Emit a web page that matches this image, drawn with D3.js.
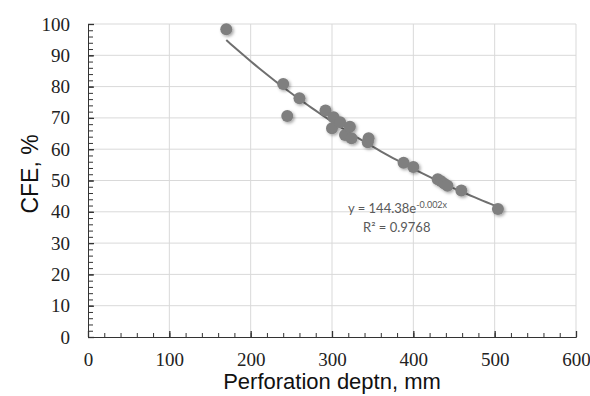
<!DOCTYPE html>
<html>
<head>
<meta charset="utf-8">
<script src="https://cdn.jsdelivr.net/npm/d3@7"></script>
<style>
  body { margin: 0; background: #fff; }
</style>
</head>
<body>
<script>
var w = 590; // Width of the chart
var h = 396; // Height of the chart
var margin = {left: 88, right: 14, top: 24, bottom: 59};

// Data
var depth = [170, 240, 245, 260, 292, 302, 300, 310, 316, 322, 324, 345, 344, 388, 400, 430, 434, 438, 442, 459, 504];
var cfe   = [98.3, 80.8, 70.6, 76.3, 72.4, 70.2, 66.7, 68.6, 64.5, 67.2, 63.5, 63.5, 62.2, 55.7, 54.3, 50.4, 49.8, 49.0, 48.3, 46.8, 40.9];
var xTicks = [0, 100, 200, 300, 400, 500, 600];
var yTicks = [0, 10, 20, 30, 40, 50, 60, 70, 80, 90, 100];

// Exponential trend line y = a * exp(-k x)
var trendA = 144.38;
var trendK = 0.00247;

var xScale = d3.scaleLinear().domain([0, 600]).range([margin.left, w - margin.right]);
var yScale = d3.scaleLinear().domain([0, 100]).range([h - margin.bottom, margin.top]);

var svg = d3.select("body").append("svg")
    .attr("width", w)
    .attr("height", h);

// Drop shadow for markers
var defs = svg.append("defs");
var f = defs.append("filter").attr("id", "shadow")
    .attr("x", "-50%").attr("y", "-50%").attr("width", "200%").attr("height", "200%");
f.append("feDropShadow")
    .attr("dx", 1.5).attr("dy", 1.5).attr("stdDeviation", 1.4)
    .attr("flood-color", "#000").attr("flood-opacity", 0.35);

// Gridlines
svg.append("g")
    .selectAll("line.h")
    .data(yTicks.slice(1))
    .join("line")
    .attr("x1", xScale(0)).attr("x2", xScale(600))
    .attr("y1", function(d) { return yScale(d); })
    .attr("y2", function(d) { return yScale(d); })
    .attr("stroke", "#d9d9d9").attr("stroke-width", 1);

svg.append("g")
    .selectAll("line.v")
    .data(xTicks.slice(1))
    .join("line")
    .attr("y1", yScale(0)).attr("y2", yScale(100))
    .attr("x1", function(d) { return xScale(d); })
    .attr("x2", function(d) { return xScale(d); })
    .attr("stroke", "#d9d9d9").attr("stroke-width", 1);

// Minor ticks
var xMinor = d3.range(0, 601, 20);
var yMinor = d3.range(0, 101, 2);

var xAxis = d3.axisBottom(xScale).tickValues(xMinor).tickSize(-4).tickFormat("");
var yAxis = d3.axisLeft(yScale).tickValues(yMinor).tickSize(-5).tickFormat("");

svg.append("g")
    .attr("transform", "translate(0," + yScale(0) + ")")
    .call(xAxis)
    .call(function(g) { g.selectAll("path, line").attr("stroke", "#333"); });

svg.append("g")
    .attr("transform", "translate(" + xScale(0) + ",0)")
    .call(yAxis)
    .call(function(g) { g.selectAll("path, line").attr("stroke", "#333"); });

// Major ticks with labels
var xMajor = d3.axisBottom(xScale).tickValues(xTicks).tickSize(-6).tickPadding(16);
var yMajor = d3.axisLeft(yScale).tickValues(yTicks).tickSize(-6).tickPadding(18);

svg.append("g")
    .attr("transform", "translate(0," + yScale(0) + ")")
    .call(xMajor)
    .call(function(g) {
        g.select(".domain").remove();
        g.selectAll("line").attr("stroke", "#333").attr("stroke-width", 1.3);
        g.selectAll("text")
            .style("font-family", "'Liberation Serif', 'Times New Roman', serif")
            .style("font-size", "19px").attr("fill", "#222");
    });

svg.append("g")
    .attr("transform", "translate(" + xScale(0) + ",0)")
    .call(yMajor)
    .call(function(g) {
        g.select(".domain").remove();
        g.selectAll("line").attr("stroke", "#333").attr("stroke-width", 1.3);
        g.selectAll("text")
            .style("font-family", "'Liberation Serif', 'Times New Roman', serif")
            .style("font-size", "19px").attr("fill", "#222");
    });

// Trend line
var trendX = d3.range(d3.min(depth), d3.max(depth) + 0.1, 5);
var line = d3.line()
    .x(function(d) { return xScale(d); })
    .y(function(d) { return yScale(trendA * Math.exp(-trendK * d)); });

svg.append("path")
    .datum(trendX)
    .attr("d", line)
    .attr("fill", "none")
    .attr("stroke", "#6f6f6f")
    .attr("stroke-width", 2);

// Points
svg.append("g")
    .attr("filter", "url(#shadow)")
    .selectAll("circle")
    .data(depth)
    .join("circle")
    .attr("cx", function(d) { return xScale(d); })
    .attr("cy", function(d, i) { return yScale(cfe[i]); })
    .attr("r", 6)
    .attr("fill", "#7f7f7f");

// Equation label
var eq = svg.append("text")
    .attr("x", 348).attr("y", 213)
    .attr("font-family", "Lato, 'Open Sans', sans-serif")
    .attr("font-size", "13px")
    .attr("fill", "#595959");
eq.append("tspan").text("y = 144.38e");
eq.append("tspan").attr("dy", -5).attr("font-size", "9px").text("-0.002x");

svg.append("text")
    .attr("x", 363).attr("y", 232)
    .attr("font-family", "Lato, 'Open Sans', sans-serif")
    .attr("font-size", "13px")
    .attr("fill", "#595959")
    .text("R² = 0.9768");

// Axis titles
svg.append("text")
    .attr("text-anchor", "middle")
    .attr("x", (xScale(0) + xScale(600)) / 2)
    .attr("y", 389)
    .attr("font-family", "'Liberation Sans', Arial, sans-serif")
    .attr("font-size", "22px")
    .attr("fill", "#111")
    .text("Perforation deptn, mm");

svg.append("text")
    .attr("text-anchor", "middle")
    .attr("transform", "rotate(-90)")
    .attr("x", -174)
    .attr("y", 38)
    .attr("font-family", "'Liberation Sans', Arial, sans-serif")
    .attr("font-size", "23px")
    .attr("fill", "#111")
    .text("CFE, %");
</script>
</body>
</html>
